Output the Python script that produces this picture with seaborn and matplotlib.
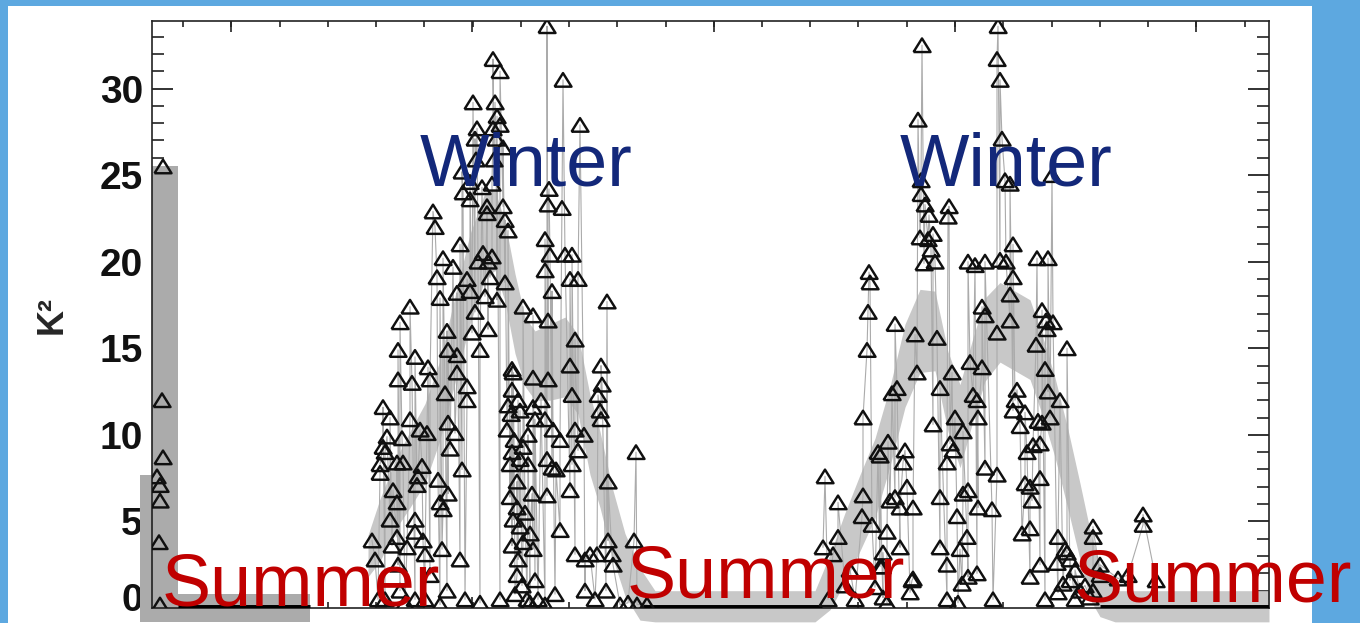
import matplotlib
matplotlib.use("Agg")
import numpy as np
import pandas as pd
import matplotlib.pyplot as plt
import seaborn as sns
from matplotlib.patches import Rectangle
from matplotlib.ticker import MultipleLocator
from matplotlib.transforms import ScaledTranslation

# ---- observations: day index of the record and K^2 ----
start_day = [2.2, 2.0, 2.2, 1.0, 1.6, 1.6, 1.4, 1.6]
start_k2 = [25.5, 12.0, 8.7, 7.6, 7.1, 6.2, 3.8, 0.2]

winter1_day = [
    44.0, 44.6, 45.2, 45.6, 45.6, 46.2, 46.6, 47.0, 46.2, 47.6,
    47.6, 48.0, 48.2, 49.0, 49.0, 49.0, 49.2, 49.2, 49.6, 50.0,
    50.2, 49.2, 49.6, 51.0, 51.6, 51.6, 52.0, 52.6, 52.6, 52.6,
    53.0, 53.2, 53.6, 54.0, 54.2, 54.6, 55.0, 55.2, 55.6, 55.6,
    52.6, 56.2, 56.6, 57.0, 57.2, 57.6, 57.6, 58.0, 58.2, 58.2,
    58.6, 59.0, 59.2, 59.2, 59.2, 59.6, 59.0, 60.2, 61.0, 61.0,
    61.0, 61.6, 60.6, 62.0, 61.6, 62.0, 62.2, 63.0, 63.0, 63.0,
    62.6, 63.6, 63.6, 64.0, 64.2, 64.6, 64.6, 65.0, 65.6, 66.0,
    66.2, 66.6, 67.0, 67.0, 67.2, 67.6, 68.0, 68.2, 68.2, 68.6,
    69.0, 69.6, 69.6, 70.2, 70.2, 70.6, 70.6, 71.2, 69.0, 67.2,
    72.0, 72.0, 72.2, 71.2, 71.8, 71.0, 72.4, 72.0, 71.6, 71.6,
    73.0, 73.0, 72.2, 72.0, 73.2, 73.0, 74.0, 75.0, 73.2, 73.6,
    73.6, 73.6, 74.2, 74.2, 74.2, 74.6, 75.2, 75.6, 76.2, 76.2,
    76.2, 76.2, 76.6, 75.2, 76.0, 76.6, 77.2, 79.0, 79.4, 79.2,
    82.0, 78.6, 79.6, 78.6, 80.0, 79.2, 79.2, 77.8, 78.6, 80.2,
    79.0, 80.0, 79.0, 81.6, 80.6, 78.6, 82.2, 82.6, 84.0, 83.6,
    85.2, 84.6, 83.6, 84.0, 85.6, 84.6, 86.4, 85.2, 84.0, 83.6,
    84.6, 86.6, 87.6, 86.6, 91.0, 89.8, 90.0, 89.2, 89.6, 89.8,
    89.0, 91.2, 92.0, 90.8, 88.6, 96.8, 96.4, 92.2, 91.2, 95.2,
    81.6, 80.8, 65.2, 64.8, 68.4, 63.6, 68.0, 68.8,
    46.6, 50.6, 54.6, 57.6, 65.6, 69.6, 72.6, 75.6,
    93.6, 97.0, 99.0,
]
winter1_k2 = [
    3.9, 2.8, 0.5, 8.3, 7.8, 9.3, 9.0, 9.9, 11.6, 11.0,
    5.1, 3.6, 6.8, 8.4, 6.1, 4.1, 14.9, 13.2, 16.5, 9.8,
    8.4, 2.5, 1.0, 3.5, 17.4, 10.9, 13.0, 14.5, 5.1, 4.4,
    7.1, 7.6, 10.3, 8.2, 3.9, 3.1, 10.1, 13.9, 13.2, 1.9,
    0.5, 22.9, 22.0, 19.1, 7.4, 17.9, 6.1, 3.4, 20.2, 5.7,
    12.4, 16.0, 14.9, 10.7, 6.6, 9.2, 1.0, 19.7, 18.2, 14.6,
    13.6, 21.0, 10.1, 8.0, 2.8, 25.2, 24.0, 19.0, 12.8, 12.0,
    0.5, 24.6, 18.3, 15.9, 29.2, 27.1, 17.1, 27.7, 14.9, 24.3,
    20.5, 18.0, 23.2, 22.8, 20.0, 19.1, 20.3, 31.7, 27.7, 29.2,
    28.4, 31.0, 27.9, 26.6, 23.2, 22.4, 18.8, 21.8, 17.8, 16.1,
    13.8, 12.6, 13.6, 11.7, 11.2, 10.3, 9.7, 9.0, 8.3, 6.4,
    7.3, 5.8, 5.1, 3.6, 2.8, 1.9, 1.3, 0.5, 12.0, 11.4,
    8.6, 4.7, 17.4, 9.3, 3.8, 5.5, 8.3, 4.3, 16.9, 13.3,
    11.6, 3.4, 10.9, 10.0, 6.6, 1.6, 0.5, 33.6, 24.2, 23.3,
    23.1, 21.3, 20.4, 19.5, 18.3, 16.6, 13.2, 12.0, 10.9, 10.3,
    8.6, 8.1, 6.5, 4.5, 0.8, 0.2, 30.5, 20.4, 20.4, 19.0,
    19.0, 15.5, 14.0, 12.3, 27.9, 10.3, 10.0, 9.1, 8.3, 6.8,
    3.1, 2.8, 3.1, 1.0, 17.7, 14.0, 12.9, 12.3, 11.4, 10.9,
    3.1, 3.9, 3.1, 1.0, 0.5, 9.0, 3.9, 2.5, 7.3, 0.3,
    9.7, 8.0, 20.0, 25.9, 25.9, 23.6, 24.5, 27.1,
    0.5, 0.3, 0.5, 0.2, 0.3, 0.5, 0.8, 0.3,
    0.2, 0.2, 0.2,
]

winter2_day = [
    142.2, 145.2, 147.2, 150.6, 150.2, 134.6, 142.2, 137.2, 148.6, 151.0,
    149.6, 152.2, 142.0, 144.0, 147.0, 137.2, 149.6, 134.2, 136.2, 146.2,
    146.0, 152.0, 151.6, 144.6, 146.2, 147.0, 156.2, 160.6, 165.2, 172.2,
    178.0, 159.6, 160.2, 162.2, 159.0, 166.6, 169.0, 165.2, 168.0, 163.2,
    162.2, 157.6, 161.0, 157.6, 161.6, 163.0, 159.0, 162.0, 163.2, 165.0,
    168.2, 159.0, 161.2, 174.6, 173.6, 175.0, 177.6, 174.6, 176.0, 174.0,
    175.6, 175.6, 143.2, 143.0, 148.6, 152.6, 157.0, 153.0, 160.0, 157.6,
    149.0, 148.0, 145.6, 163.6, 166.0, 164.2, 165.0, 166.0, 166.6, 169.0,
    171.6, 173.0, 172.6, 178.0, 180.2, 179.0, 183.0, 178.6, 179.2, 181.6,
    179.6, 177.2, 177.6, 176.2, 175.6, 147.6, 145.6, 152.2, 181.2, 183.0,
    181.0, 188.2, 188.2, 182.2, 181.2, 188.2, 154.0, 169.2, 169.0, 169.6,
    153.2, 143.4, 143.6, 153.8, 154.6, 155.4, 153.6, 155.2, 156.2, 155.8,
    156.6, 154.4, 159.4, 159.2, 153.8, 170.0, 170.6, 171.6, 180.0, 172.2,
    170.8, 169.6, 172.2, 163.2, 164.6, 166.6, 179.2, 177.0, 171.6, 178.8,
    176.8, 198.2, 198.2, 182.6, 183.6, 184.6, 183.6, 185.6, 184.6, 186.6,
    187.6, 189.6, 189.6, 193.2, 195.2, 200.8, 177.6, 178.6, 135.2, 138.6,
    139.6, 140.6,
]
winter2_k2 = [
    11.0, 9.0, 9.6, 9.1, 8.4, 7.6, 6.5, 6.1, 6.4, 7.0,
    5.8, 5.8, 5.3, 4.8, 4.4, 4.1, 3.5, 3.5, 3.1, 3.2,
    2.4, 1.6, 0.9, 1.2, 0.6, 0.3, 10.6, 11.0, 11.0, 11.4,
    10.7, 9.5, 9.1, 10.2, 8.4, 8.1, 7.7, 5.8, 5.7, 6.8,
    6.6, 6.4, 5.3, 3.5, 3.4, 4.1, 2.5, 1.4, 1.8, 2.0,
    0.5, 0.5, 0.3, 11.3, 10.5, 9.0, 7.5, 7.2, 6.2, 4.3,
    4.6, 1.8, 17.1, 14.9, 16.4, 15.8, 15.6, 13.6, 13.6, 12.7,
    12.7, 12.4, 8.8, 14.2, 13.9, 12.3, 12.0, 17.4, 16.9, 15.9,
    16.6, 12.6, 12.0, 17.2, 16.5, 16.1, 15.0, 13.8, 12.5, 12.0,
    11.0, 10.8, 9.5, 9.4, 7.0, 6.2, 2.4, 1.7, 4.1, 3.2,
    2.6, 4.7, 4.1, 1.4, 0.9, 1.0, 32.5, 33.6, 31.7, 30.5,
    28.2, 19.4, 18.8, 23.9, 23.3, 22.7, 21.4, 21.3, 21.6, 20.7,
    20.0, 19.9, 23.2, 22.6, 24.7, 27.1, 24.7, 24.5, 25.0, 21.0,
    20.0, 20.1, 19.1, 20.0, 19.8, 20.0, 20.2, 20.2, 18.1, 16.6,
    15.2, 5.4, 4.8, 3.4, 2.8, 2.2, 1.6, 1.0, 0.5, 1.3,
    0.6, 1.9, 2.5, 1.7, 1.9, 1.6, 2.5, 0.5, 0.5, 1.3,
    2.2, 0.5,
]

# ---- seasonal envelope (shaded ribbon) ----
early_day = [-2.4, 0.0, 0.0, 5.2, 5.2, 31.6]
early_lo = [-0.8, -0.8, -0.8, -0.8, -0.8, -0.8]
early_hi = [7.7, 7.7, 25.5, 25.5, 0.8, 0.8]

band_day = [43.2, 45.6, 48.6, 51.6, 54.6, 57.6, 60.6, 63.6, 66.6, 68.6,
            70.6, 72.6, 74.6, 76.6, 79.6, 82.6, 85.2, 87.6, 89.6, 92.0,
            94.6, 97.6, 100.6, 132.6, 135.6, 138.6, 141.6, 144.6, 147.6, 150.6,
            153.6, 156.6, 159.2, 161.6, 164.0, 166.6, 169.6, 172.6, 175.6, 178.0,
            180.6, 183.2, 185.6, 187.6, 189.6, 192.6, 223.4]
band_hi = [4.2, 6.3, 8.5, 10.2, 11.8, 14.3, 18.0, 21.6, 24.0, 24.1,
           22.3, 19.3, 16.8, 16.0, 16.4, 16.8, 15.8, 12.3, 10.2, 7.0,
           4.3, 2.3, 1.0, 1.0, 3.1, 5.5, 7.7, 9.8, 12.8, 16.4,
           18.4, 18.3, 14.8, 12.9, 15.4, 17.9, 18.8, 18.3, 17.8, 15.8,
           13.3, 10.3, 7.2, 4.5, 2.5, 1.0, 1.0]
band_lo = [1.8, 2.7, 4.5, 5.8, 7.2, 9.7, 13.0, 16.4, 19.0, 19.5,
           17.7, 14.7, 12.8, 12.0, 12.0, 12.2, 11.2, 7.7, 5.8, 3.0,
           0.7, -0.7, -0.8, -0.8, -0.1, 1.5, 3.3, 5.2, 8.2, 11.6,
           13.6, 13.7, 10.2, 8.1, 10.6, 13.1, 14.2, 13.7, 13.2, 11.2,
           8.7, 5.7, 2.8, 0.5, -0.5, -0.8, -0.8]

# ---- zero-valued summer stretches ----
summer_start = [5.2, 98.2, 189.6]
summer_end = [31.6, 134.0, 223.4]

y_ticks = [0, 5, 10, 15, 20, 25, 30]
y_labels = [str(v) for v in y_ticks]

obs = pd.concat([
    pd.DataFrame({"day": start_day, "k2": start_k2, "season": 0}),
    pd.DataFrame({"day": winter1_day, "k2": winter1_k2, "season": 1}),
    pd.DataFrame({"day": winter2_day, "k2": winter2_k2, "season": 2}),
], ignore_index=True)

sns.set_style("white")
plt.rcParams["font.family"] = ["Liberation Sans", "DejaVu Sans"]

W, H = 1360, 623
fig = plt.figure(figsize=(W / 100, H / 100), dpi=100)
fig.patch.set_facecolor("#5DA8E0")
fig.add_artist(Rectangle((8 / W, 0), (1312 - 8) / W, 1 - 6 / H,
                         transform=fig.transFigure, facecolor="white",
                         edgecolor="none", zorder=-5))

ax = fig.add_axes([152 / W, 1 - 608 / H, (1269 - 152) / W, (608 - 21) / H])
ax.set_facecolor("white")

# shaded envelope (allowed to spill just past the frame)
ax.fill_between(early_day, early_lo, early_hi, color="#ABABAB", lw=0,
                clip_on=False, zorder=1)
ax.fill_between(band_day, band_lo, band_hi, color="#C8C8C8", lw=0,
                clip_on=False, zorder=1)

# thin connecting trace per season
sns.lineplot(data=obs, x="day", y="k2", units="season", estimator=None,
             color="#ABABAB", linewidth=0.8, legend=False, ax=ax, zorder=2)

# summer zero line
for s, e in zip(summer_start, summer_end):
    ax.plot([s, e], [0, 0], color="black", lw=5, solid_capstyle="butt",
            zorder=3)

# open triangles
tri = [(-1.0, -0.8), (1.0, -0.8), (0.0, 0.8), (-1.0, -0.8)]
sns.scatterplot(data=obs, x="day", y="k2", marker=tri, s=150,
                color="black", facecolor="none", edgecolor="#101010",
                linewidth=1.75, legend=False, ax=ax, zorder=4)

ax.set_xlim(0, 223.4)
ax.set_ylim(0, 33.9)
ax.set_xlabel("")
ax.set_ylabel("K²", fontsize=26, fontweight="bold", labelpad=0)
ax.yaxis.set_label_coords(-0.074, 0.5)

ax.xaxis.set_major_locator(MultipleLocator(48.25, offset=15.8))
ax.xaxis.set_minor_locator(MultipleLocator(9.65, offset=6.2))
ax.set_yticks(y_ticks, labels=y_labels, fontsize=28, fontweight="bold")
ax.yaxis.set_minor_locator(MultipleLocator(1))

ax.tick_params(axis="x", which="major", direction="in", length=8, width=1.2,
               top=True, bottom=True, labelbottom=False, color="#222222")
ax.tick_params(axis="x", which="minor", direction="in", length=4.5, width=1.2,
               top=True, bottom=True, color="#222222")
ax.tick_params(axis="y", which="major", direction="in", length=15, width=1.3,
               left=True, right=True, pad=6.5, color="#222222",
               labelcolor="#111111")
ax.tick_params(axis="y", which="minor", direction="in", length=8.5, width=1.2,
               left=True, right=True, color="#222222")
for sp in ax.spines.values():
    sp.set_color("#222222")
    sp.set_linewidth(1.2)

# lift the zero label slightly above its tick
zero_tick = ax.yaxis.get_major_ticks()[0]
zero_tick.label1.set_transform(zero_tick.label1.get_transform()
                               + ScaledTranslation(0, 0.11, fig.dpi_scale_trans))

# season annotations
navy, red = "#13287A", "#C00000"
fig.text(420 / W, 1 - 185 / H, "Winter", color=navy, fontsize=53,
         ha="left", va="baseline", zorder=10)
fig.text(900 / W, 1 - 185 / H, "Winter", color=navy, fontsize=53,
         ha="left", va="baseline", zorder=10)
fig.text(162 / W, 1 - 605 / H, "Summer", color=red, fontsize=53,
         ha="left", va="baseline", zorder=10)
fig.text(627 / W, 1 - 598 / H, "Summer", color=red, fontsize=53,
         ha="left", va="baseline", zorder=10)
fig.text(1074 / W, 1 - 602 / H, "Summer", color=red, fontsize=53,
         ha="left", va="baseline", zorder=10)

fig.savefig("out.png", dpi=100, facecolor=fig.get_facecolor())
